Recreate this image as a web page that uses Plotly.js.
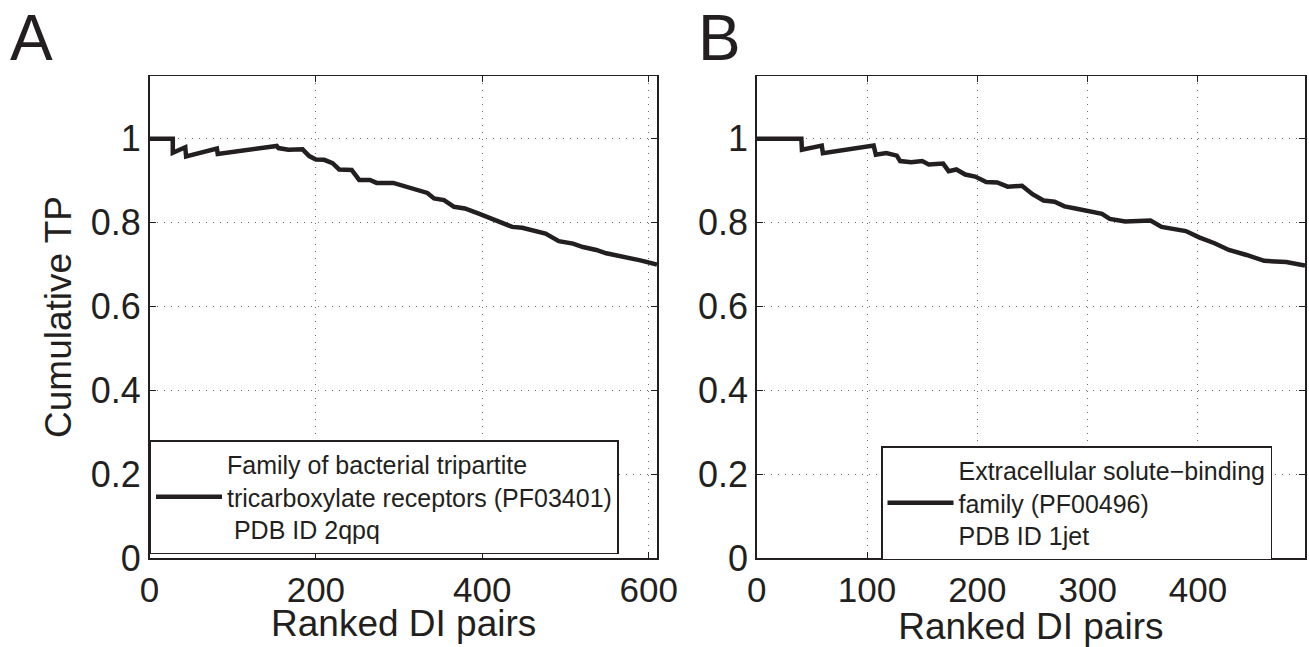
<!DOCTYPE html>
<html>
<head>
<meta charset="utf-8">
<script src="https://cdn.plot.ly/plotly-3.0.1.min.js"></script>
<style>html,body{margin:0;padding:0;background:#fff;}#chart{width:1309px;height:647px;}</style>
</head>
<body>
<div id="chart"></div>
<script>
// Panel A data (Family of bacterial tripartite tricarboxylate receptors, PF03401)
const xA = [0, 28, 28, 43, 44, 81, 82, 120, 153, 155, 167, 184, 192, 200, 210, 220, 228, 243, 252, 265, 273, 293, 314, 334, 342, 354, 366, 379, 395, 415, 436, 448, 476, 492, 509, 521, 537, 549, 574, 590, 610];
const yA = [1, 1, 0.967, 0.98, 0.958, 0.977, 0.964, 0.975, 0.983, 0.978, 0.974, 0.975, 0.959, 0.951, 0.95, 0.942, 0.927, 0.926, 0.902, 0.902, 0.895, 0.895, 0.882, 0.871, 0.858, 0.854, 0.838, 0.834, 0.822, 0.806, 0.79, 0.788, 0.774, 0.756, 0.75, 0.742, 0.735, 0.727, 0.718, 0.71, 0.70];
// Panel B data (Extracellular solute-binding family, PF00496)
const xB = [0, 40.5, 41, 59, 60, 106, 108, 117.5, 127, 130, 140, 150, 156, 169, 174, 181, 189, 198, 208, 218, 227.5, 240.5, 250, 260, 270, 279, 289, 299, 313, 320, 334, 357, 367, 389, 401, 415, 428, 444, 460, 480, 497];
const yB = [1, 1, 0.974, 0.984, 0.966, 0.984, 0.962, 0.966, 0.96, 0.947, 0.944, 0.947, 0.939, 0.941, 0.923, 0.927, 0.915, 0.91, 0.897, 0.896, 0.886, 0.888, 0.868, 0.853, 0.85, 0.839, 0.834, 0.829, 0.821, 0.809, 0.803, 0.805, 0.79, 0.78, 0.765, 0.751, 0.735, 0.723, 0.709, 0.706, 0.698];

const nameA = 'Family of bacterial tripartite<br>tricarboxylate receptors (PF03401)<br> PDB ID 2qpq';
const nameB = 'Extracellular solute\u2212binding<br>family (PF00496)<br>PDB ID 1jet';
const xTitle = 'Ranked DI pairs';
const yTitle = 'Cumulative TP';
const xTicksA = [0, 200, 400, 600];
const xTicksB = [0, 100, 200, 300, 400];
const yTicks = [0, 0.2, 0.4, 0.6, 0.8, 1];
const yTickText = ['0', '0.2', '0.4', '0.6', '0.8', '1'];

const W = 1309, H = 647;
const ink = '#231f20';
const FONT = 'Liberation Sans, Arial, Helvetica, sans-serif';

const traces = [
  {x: xA, y: yA, xaxis: 'x', yaxis: 'y', mode: 'lines', name: nameA, legend: 'legend',
   line: {color: ink, width: 4.5}},
  {x: xB, y: yB, xaxis: 'x2', yaxis: 'y2', mode: 'lines', name: nameB, legend: 'legend2',
   line: {color: ink, width: 4.5}}
];

function xax(dom, range, ticks, anchor, title) {
  return {domain: dom, range: range, anchor: anchor, tickvals: ticks, ticktext: ticks.map(String),
    showline: true, linecolor: ink, linewidth: 1.5, mirror: 'ticks', ticks: 'inside', ticklen: 6,
    tickcolor: ink, tickwidth: 1, showgrid: true, gridcolor: '#6d6d6d', gridwidth: 1, griddash: '1px,6px',
    zeroline: false, tickfont: {size: 35, color: ink, family: FONT},
    title: {text: title, font: {size: 37, color: ink, family: FONT}}};
}
function yax(dom, anchor, title) {
  return {domain: dom, range: [0, 1.15], anchor: anchor, tickvals: yTicks, ticktext: yTickText,
    showline: true, linecolor: ink, linewidth: 1.5, mirror: 'ticks', ticks: 'inside', ticklen: 6,
    tickcolor: ink, tickwidth: 1, showgrid: true, gridcolor: '#6d6d6d', gridwidth: 1, griddash: '1px,6px',
    zeroline: false, tickfont: {size: 36, color: ink, family: FONT},
    title: {text: title, font: {size: 37, color: ink, family: FONT}, standoff: 8}};
}

const yDom = [1 - 558 / H, 1 - 76 / H];
const domA = [149.5 / W, 657 / W];
const legendCommon = {xanchor: 'left', yanchor: 'top', xref: 'paper', yref: 'paper',
  bgcolor: '#fff', bordercolor: ink, borderwidth: 1.5, font: {size: 25, color: ink, family: FONT},
  itemwidth: 66, valign: 'middle'};
const layout = {
  width: W, height: H, margin: {l: 0, r: 0, t: 0, b: 0},
  paper_bgcolor: '#fff', plot_bgcolor: '#fff',
  font: {family: FONT, color: ink},
  showlegend: true,
  xaxis: xax(domA, [0, 610], xTicksA, 'y', ''),
  yaxis: yax(yDom, 'x', yTitle),
  xaxis2: xax([756.7 / W, 1305 / W], [0, 497], xTicksB, 'y2', xTitle),
  yaxis2: yax(yDom, 'x2', ''),
  legend: Object.assign({x: 149.5 / W, y: 1 - 440 / H}, legendCommon),
  legend2: Object.assign({x: 881 / W, y: 1 - 446 / H}, legendCommon),
  annotations: [
    {text: 'A', xref: 'paper', yref: 'paper', x: 8 / W, y: 1, xanchor: 'left', yanchor: 'top',
     showarrow: false, font: {size: 64, color: ink, family: FONT}},
    {text: 'B', xref: 'paper', yref: 'paper', x: 696 / W, y: 1, xanchor: 'left', yanchor: 'top',
     showarrow: false, font: {size: 64, color: ink, family: FONT}},
    {text: xTitle, xref: 'paper', yref: 'paper', x: (domA[0] + domA[1]) / 2, y: 1 - 623 / H,
     xanchor: 'center', yanchor: 'middle', showarrow: false, font: {size: 37, color: ink, family: FONT}}
  ]
};

Plotly.newPlot('chart', traces, layout, {displayModeBar: false, staticPlot: true});
</script>
</body>
</html>
